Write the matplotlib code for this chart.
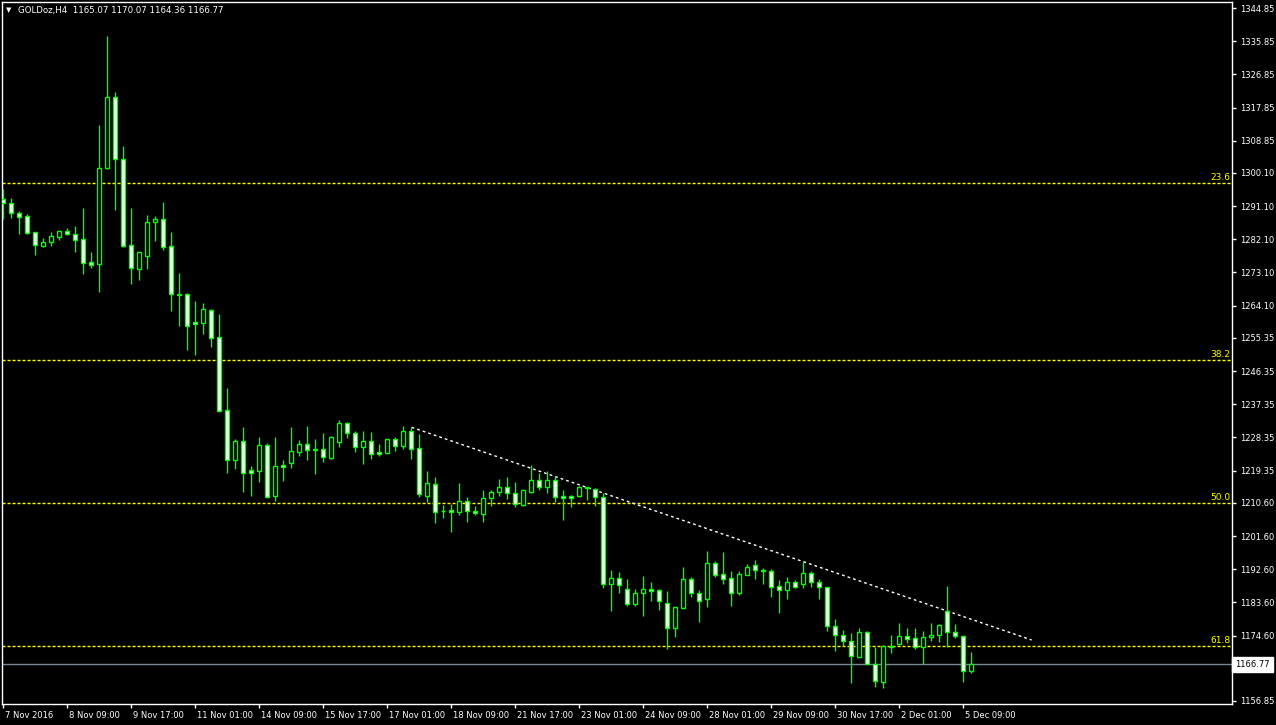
import matplotlib
matplotlib.use('Agg')
import matplotlib.pyplot as plt
import matplotlib.transforms as mtransforms
import numpy as np

# GOLDoz H4 bars, 7 Nov 2016 01:00 .. 5 Dec 2016
opens = [1292.95, 1291.86, 1289.15, 1288.34, 1284.00, 1280.36, 1281.45, 1282.80, 1284.27, 1283.54,
         1282.10, 1275.94, 1275.32, 1301.36, 1320.62, 1303.80, 1280.47, 1274.12, 1277.65, 1286.71,
         1287.52, 1280.20, 1267.20, 1267.18, 1259.66, 1259.47, 1262.84, 1255.51, 1235.70, 1222.30,
         1227.30, 1219.51, 1219.32, 1226.21, 1212.54, 1220.87, 1221.49, 1224.39, 1226.56, 1225.13,
         1225.13, 1222.76, 1227.02, 1232.26, 1229.55, 1225.83, 1227.38, 1224.39, 1224.20, 1227.84,
         1226.10, 1230.01, 1225.40, 1212.54, 1215.63, 1208.39, 1208.66, 1208.03, 1211.02, 1208.39,
         1207.49, 1211.83, 1213.46, 1214.82, 1213.19, 1210.09, 1213.62, 1216.71, 1214.98, 1216.71,
         1212.37, 1212.37, 1212.37, 1214.82, 1214.27, 1212.10, 1188.50, 1190.13, 1187.14, 1183.24,
         1186.22, 1187.22, 1186.87, 1183.34, 1176.56, 1182.15, 1189.86, 1186.06, 1184.43, 1194.20,
         1191.21, 1190.13, 1186.22, 1191.10, 1193.65, 1192.38, 1192.03, 1187.96, 1186.87, 1189.04,
         1188.50, 1191.48, 1189.04, 1187.69, 1177.27, 1174.66, 1173.04, 1168.86, 1175.48, 1166.80,
         1161.91, 1171.68, 1172.22, 1174.39, 1173.85, 1171.57, 1174.12, 1174.66, 1181.17, 1175.48,
         1174.39, 1165.07]
highs = [1295.74, 1293.30, 1289.78, 1288.96, 1284.10, 1282.45, 1284.08, 1284.40, 1285.16, 1285.79,
         1290.59, 1278.65, 1313.11, 1337.25, 1322.06, 1307.41, 1290.59, 1278.60, 1288.69, 1288.42,
         1292.22, 1284.08, 1272.96, 1267.45, 1265.36, 1264.82, 1263.19, 1261.83, 1241.76, 1227.92,
         1231.17, 1220.59, 1228.46, 1226.83, 1228.46, 1222.22, 1231.17, 1227.65, 1231.45, 1227.92,
         1229.55, 1228.73, 1233.07, 1232.53, 1230.09, 1230.09, 1229.82, 1226.56, 1227.90, 1228.46,
         1231.45, 1231.09, 1229.28, 1219.24, 1217.61, 1210.01, 1210.20, 1215.98, 1212.10, 1209.66,
         1214.08, 1214.08, 1217.07, 1217.61, 1216.25, 1214.35, 1220.87, 1218.70, 1219.24, 1217.88,
         1214.08, 1212.73, 1215.09, 1214.90, 1214.60, 1213.19, 1192.38, 1191.76, 1189.94, 1187.22,
         1190.67, 1189.12, 1187.22, 1186.68, 1182.40, 1193.19, 1190.56, 1186.95, 1197.53, 1194.82,
         1197.26, 1192.11, 1192.11, 1194.01, 1195.09, 1192.92, 1192.57, 1189.67, 1190.56, 1189.67,
         1194.74, 1192.11, 1189.86, 1187.80, 1179.00, 1176.02, 1175.21, 1176.56, 1175.83, 1171.41,
         1171.95, 1174.66, 1178.00, 1176.64, 1176.64, 1175.83, 1178.00, 1177.73, 1188.04, 1177.73,
         1174.45, 1170.07]
lows = [1287.69, 1287.96, 1283.62, 1283.50, 1277.92, 1280.09, 1280.36, 1281.99, 1283.30, 1278.73,
        1272.77, 1274.39, 1267.88, 1301.20, 1290.13, 1280.09, 1270.05, 1271.14, 1274.12, 1281.64,
        1279.19, 1262.73, 1258.66, 1252.06, 1250.71, 1256.41, 1252.88, 1235.50, 1218.78, 1219.78,
        1213.54, 1212.46, 1216.25, 1212.10, 1211.10, 1216.52, 1220.05, 1223.31, 1222.22, 1218.42,
        1221.68, 1222.49, 1225.75, 1228.19, 1224.39, 1221.14, 1222.49, 1223.31, 1224.10, 1224.75,
        1225.13, 1222.57, 1212.10, 1210.91, 1205.21, 1206.57, 1202.77, 1207.22, 1205.40, 1207.38,
        1205.40, 1209.74, 1212.46, 1211.72, 1209.39, 1209.74, 1213.35, 1214.08, 1213.27, 1210.91,
        1206.02, 1209.55, 1212.10, 1211.29, 1209.82, 1187.58, 1181.34, 1186.22, 1182.61, 1182.61,
        1179.98, 1184.05, 1181.53, 1170.86, 1174.28, 1182.00, 1185.05, 1178.35, 1182.42, 1190.56,
        1188.58, 1182.61, 1185.52, 1191.02, 1189.94, 1188.50, 1185.14, 1180.79, 1184.59, 1187.41,
        1187.41, 1187.69, 1184.51, 1175.91, 1170.49, 1171.68, 1161.80, 1168.69, 1166.80, 1160.72,
        1160.45, 1169.94, 1171.95, 1172.49, 1170.86, 1166.80, 1173.04, 1172.76, 1171.57, 1173.85,
        1162.08, 1164.36]
closes = [1291.86, 1289.15, 1288.23, 1283.73, 1280.47, 1281.37, 1282.91, 1284.27, 1283.45, 1281.99,
          1275.75, 1275.21, 1301.36, 1320.62, 1303.80, 1280.36, 1274.23, 1278.57, 1286.71, 1287.52,
          1280.09, 1267.18, 1267.10, 1258.66, 1259.20, 1263.11, 1255.40, 1235.60, 1222.30, 1227.30,
          1218.78, 1218.78, 1226.21, 1212.27, 1220.51, 1220.32, 1224.66, 1226.56, 1225.02, 1225.05,
          1222.95, 1228.46, 1232.26, 1229.55, 1225.83, 1227.38, 1223.93, 1223.93, 1227.84, 1226.10,
          1230.01, 1225.29, 1212.92, 1215.90, 1208.20, 1208.33, 1208.03, 1211.02, 1208.30, 1207.76,
          1211.83, 1213.46, 1214.82, 1213.19, 1210.20, 1214.00, 1216.71, 1214.98, 1216.71, 1212.10,
          1211.83, 1211.83, 1214.82, 1214.54, 1212.10, 1188.50, 1190.13, 1188.23, 1183.24, 1186.06,
          1187.14, 1186.76, 1184.05, 1176.56, 1182.26, 1189.86, 1186.06, 1183.89, 1194.20, 1191.02,
          1189.86, 1186.22, 1191.21, 1193.11, 1192.30, 1192.03, 1187.85, 1186.87, 1189.04, 1187.69,
          1191.48, 1189.04, 1187.69, 1177.27, 1174.66, 1173.04, 1168.97, 1175.48, 1166.88, 1162.18,
          1171.68, 1171.41, 1174.39, 1173.58, 1171.41, 1174.12, 1174.74, 1177.38, 1175.48, 1174.39,
          1164.90, 1166.77]

date_labels = ['7 Nov 2016', '8 Nov 09:00', '9 Nov 17:00', '11 Nov 01:00', '14 Nov 09:00',
               '15 Nov 17:00', '17 Nov 01:00', '18 Nov 09:00', '21 Nov 17:00', '23 Nov 01:00',
               '24 Nov 09:00', '28 Nov 01:00', '29 Nov 09:00', '30 Nov 17:00', '2 Dec 01:00',
               '5 Dec 09:00']
price_ticks = [1344.85, 1335.85, 1326.85, 1317.85, 1308.85, 1300.10, 1291.10, 1282.10, 1273.10,
               1264.10, 1255.35, 1246.35, 1237.35, 1228.35, 1219.35, 1210.60, 1201.60, 1192.60,
               1183.60, 1174.60, 1165.85, 1156.85]

fib_levels = [1297.29, 1249.27, 1210.47, 1171.68]
fib_names = ['23.6', '38.2', '50.0', '61.8']

trend_x = [51.05, 128.55]
trend_y = [1231.09, 1173.39]

green = '#00ff00'

fig = plt.figure(figsize=(12.76, 7.25), dpi=100, facecolor='black')
ax = fig.add_axes([2 / 1276, 21 / 725, 1230 / 1276, 702 / 725])
ax.set_facecolor('black')

x = np.arange(len(opens))
o = np.array(opens)
c = np.array(closes)
bull = c >= o

# wicks, then bodies on top (bull = black body, bear = white body)
ax.vlines(x, lows, highs, color=green, lw=1, zorder=3)
body_h = np.maximum(np.abs(c - o), 0.05)
ax.bar(x, body_h, bottom=np.minimum(o, c), width=0.55,
       color=np.where(bull, 'black', 'white'), edgecolor=green, linewidth=1, zorder=4)

# fibonacci levels
ytrans = ax.get_yaxis_transform()
for lvl, name in zip(fib_levels, fib_names):
    ax.axhline(lvl, color='#ffff00', lw=1, dashes=(2.2, 1.4), zorder=2)
    ax.text(0.999, lvl + 0.3, name, transform=ytrans, ha='right', va='bottom',
            color='#ffff00', fontsize=6.5, zorder=5)

# trendline
ax.plot(trend_x, trend_y, color='white', lw=1, dashes=(2, 2.2), zorder=2)

# current price line + label box on the price scale
last_price = closes[-1]
ax.axhline(last_price, color='#778899', lw=1, zorder=1)
ax.text(1.0025, last_price, f'{last_price:.2f}', transform=ytrans, ha='left', va='center',
        color='black', fontsize=6, clip_on=False, zorder=10,
        bbox=dict(boxstyle='square,pad=0.35', fc='white', ec='white'))

ax.set_xlim(-0.16, 153.6)
ax.set_ylim(1156.02, 1346.48)

ax.yaxis.tick_right()
ax.set_yticks(price_ticks)
ax.set_yticklabels([f'{p:.2f}' for p in price_ticks])
ax.tick_params(axis='y', colors='white', labelsize=6, length=3, pad=3, width=1)

ax.set_xticks(np.arange(0, 8 * len(date_labels), 8))
ax.set_xticklabels(date_labels, ha='left')
ax.tick_params(axis='x', colors='white', labelsize=6, length=3, pad=2, width=1)
offset = mtransforms.ScaledTranslation(2 / 100, 0, fig.dpi_scale_trans)
for lab in ax.get_xticklabels():
    lab.set_transform(lab.get_transform() + offset)

for sp in ax.spines.values():
    sp.set_color('white')
    sp.set_linewidth(1)

# header
fig.text(6 / 1276, 1 - 10 / 725, '\u25bc', color='white', fontsize=5, va='center')
fig.text(18 / 1276, 1 - 10 / 725,
         f'GOLDoz,H4  {opens[-1]:.2f} {highs[-1]:.2f} {lows[-1]:.2f} {closes[-1]:.2f}',
         color='white', fontsize=6.2, va='center')

fig.savefig('out.png', dpi=100, facecolor='black')
